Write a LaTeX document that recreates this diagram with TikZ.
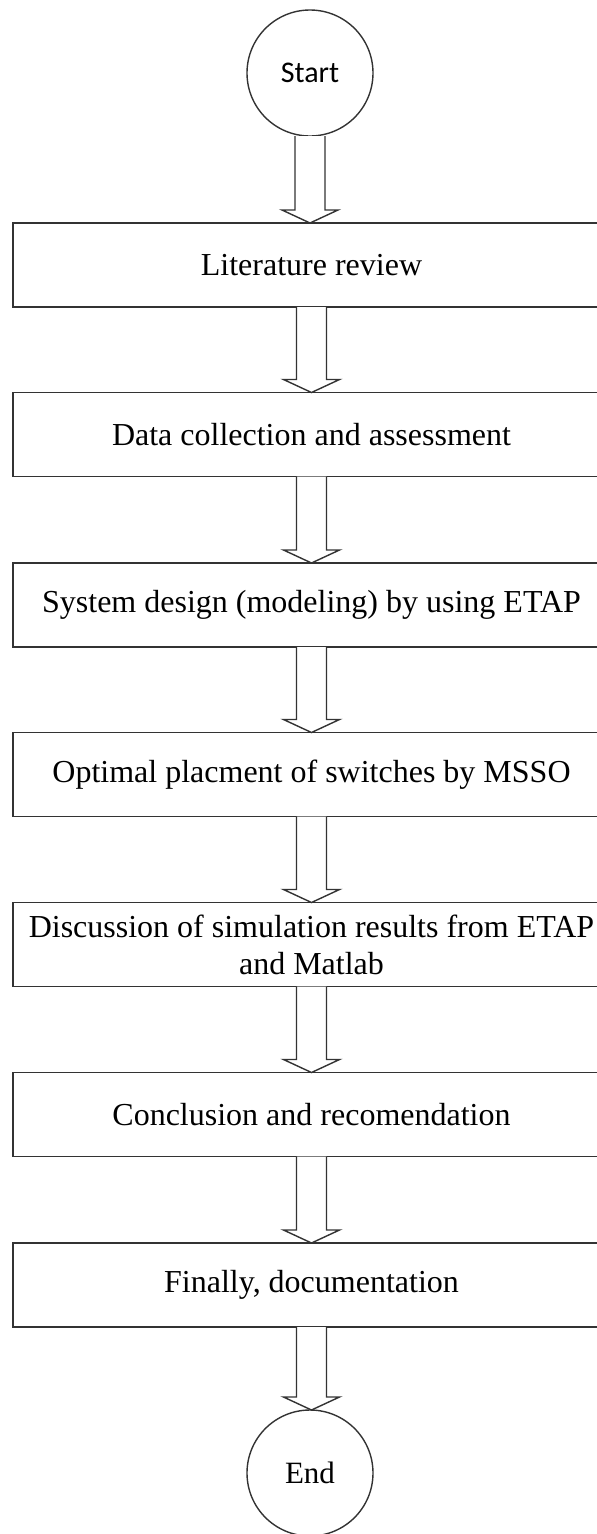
\documentclass[tikz,border=0pt]{standalone}
\usepackage{fontspec}
\setmainfont{Liberation Serif}
\newfontfamily\startfont{Carlito}
\usetikzlibrary{calc}
\tikzset{
  stepbox/.style={draw=black!80, line width=1.6pt, rectangle, minimum width=597pt, minimum height=84pt, inner sep=0pt, outer sep=0pt, font=\fontsize{32}{37}\selectfont, align=center},
  term/.style={draw=black!80, line width=1.4pt, circle, minimum size=126pt, inner sep=0pt, outer sep=0pt},
  hollow/.style={draw=black!80, line width=1.4pt, fill=white, line join=miter,
    to path={let \p1=(\tikztostart), \p2=(\tikztotarget) in
      (\x1-15pt,\y1) -- (\x1-15pt,\y2+13pt) -- (\x1-28pt,\y2+13pt) -- (\x1,\y2) -- (\x1+28pt,\y2+13pt) -- (\x1+15pt,\y2+13pt) -- (\x1+15pt,\y1)}}
}
\begin{document}
\begin{tikzpicture}[x=1pt,y=1pt]
\useasboundingbox (0,0) rectangle (597,-1534);
\clip (0,0) rectangle (597,-1534);
\fill[white] (0,0) rectangle (597,-1534);
\node[term, font=\startfont\fontsize{30}{34}\selectfont] (start) at (310,-73) {Start};
\node[stepbox] (b1) at (311.5,-265) {Literature review};
\node[stepbox] (b2) at (311.5,-434.5) {Data collection and assessment};
\node[stepbox] (b3) at (311.5,-605) {System design (modeling) by using ETAP};
\node[stepbox] (b4) at (311.5,-774.5) {Optimal placment of switches by MSSO};
\node[stepbox] (b5) at (311.5,-944.5) {Discussion of simulation results from ETAP\\and Matlab};
\node[stepbox] (b6) at (311.5,-1114.5) {Conclusion and recomendation};
\node[stepbox] (b7) at (311.5,-1285) {Finally, documentation};
\node[term, font=\fontsize{31}{35}\selectfont] (end) at (310,-1473) {End};
\path[hollow] (start.south) to (b1.north);
\path[hollow] (b1.south) to (b2.north);
\path[hollow] (b2.south) to (b3.north);
\path[hollow] (b3.south) to (b4.north);
\path[hollow] (b4.south) to (b5.north);
\path[hollow] (b5.south) to (b6.north);
\path[hollow] (b6.south) to (b7.north);
\path[hollow] (b7.south) to (end.north);
\end{tikzpicture}
\end{document}
